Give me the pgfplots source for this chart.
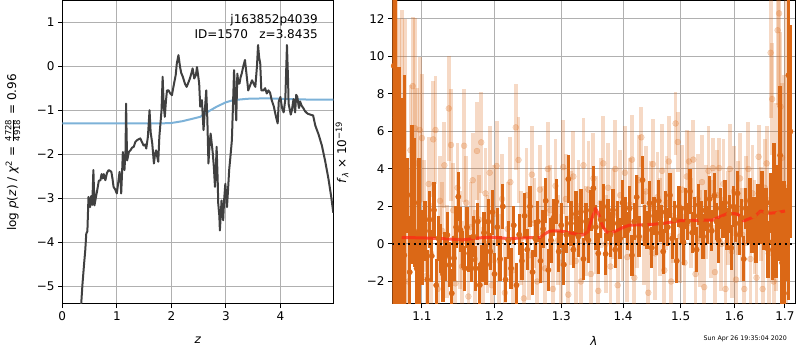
\documentclass[border=0pt]{standalone}
\usepackage{pgfplots}
\usepackage{pgfplotstable}
\pgfplotsset{compat=1.18}
\usepackage{fontspec}
\setmainfont{DejaVu Sans}
\definecolor{dorange}{RGB}{219,104,22}
\definecolor{lblue}{RGB}{125,178,216}
\definecolor{dgray}{RGB}{64,64,64}
\definecolor{gridgray}{RGB}{176,176,176}
\definecolor{redl}{RGB}{255,40,20}

\pgfplotstableread{
z y
0.344 -5.45
0.37 -4.95
0.40 -4.48
0.42 -4.2
0.44 -3.80
0.46 -3.75
0.48 -2.97
0.50 -3.05
0.51 -3.20
0.53 -2.95
0.55 -3.15
0.57 -2.36
0.59 -3.16
0.62 -2.95
0.64 -2.82
0.67 -2.6
0.70 -2.59
0.72 -2.45
0.74 -2.55
0.76 -2.45
0.79 -2.59
0.82 -2.42
0.85 -2.36
0.88 -2.38
0.90 -2.40
0.92 -2.55
0.94 -2.74
0.97 -2.8
1.00 -2.89
1.02 -2.7
1.05 -2.40
1.07 -2.6
1.08 -2.89
1.10 -2.3
1.11 -1.95
1.13 -2.2
1.14 -2.36
1.16 -1.9
1.17 -0.85
1.18 -1.6
1.19 -2.14
1.22 -1.95
1.25 -1.91
1.28 -1.85
1.31 -1.83
1.34 -1.72
1.37 -1.68
1.40 -1.66
1.43 -1.64
1.46 -1.72
1.49 -1.80
1.52 -1.78
1.54 -1.87
1.57 -1.6
1.60 -1.0
1.62 -1.5
1.65 -1.76
1.68 -2.21
1.70 -2.0
1.72 -1.91
1.74 -2.05
1.76 -2.17
1.78 -1.6
1.80 -1.30
1.82 -1.0
1.84 -0.24
1.86 -0.9
1.88 -1.15
1.90 -0.8
1.92 -0.55
1.95 -0.55
1.98 -0.62
2.01 -0.66
2.05 -0.39
2.08 -0.2
2.10 0.06
2.13 0.25
2.16 -0.02
2.18 -0.15
2.21 -0.24
2.25 -0.4
2.28 -0.47
2.31 -0.38
2.34 -0.28
2.37 -0.15
2.39 -0.05
2.42 -0.28
2.45 -0.2
2.47 -0.02
2.49 -0.2
2.51 -0.39
2.53 -0.92
2.56 -0.77
2.59 -1.45
2.62 -0.9
2.64 -0.55
2.66 -1.2
2.68 -2.21
2.70 -1.8
2.72 -1.53
2.74 -1.75
2.76 -1.98
2.78 -2.3
2.80 -2.74
2.82 -2.2
2.83 -1.83
2.85 -2.6
2.86 -3.12
2.88 -3.4
2.89 -3.73
2.91 -3.3
2.92 -3.05
2.94 -3.3
2.95 -3.5
2.97 -3.0
2.99 -2.67
3.01 -3.0
3.02 -3.2
3.04 -2.8
3.06 -2.36
3.08 -2.1
3.11 -1.68
3.13 -0.9
3.15 -0.09
3.17 -0.7
3.19 -1.23
3.21 -0.17
3.23 -0.4
3.25 -0.39
3.27 -0.25
3.29 -0.17
3.32 0.0
3.35 0.14
3.38 -0.2
3.41 -0.55
3.44 -0.45
3.48 -0.32
3.51 -0.4
3.54 -0.47
3.57 0.0
3.59 0.48
3.61 0.2
3.63 0.06
3.65 -0.55
3.69 -0.55
3.72 -0.5
3.75 -0.62
3.78 -0.55
3.81 -0.6
3.84 -0.77
3.88 -0.92
3.91 -1.1
3.95 -1.30
3.97 -0.8
4.00 -0.7
4.03 -0.95
4.06 -1.05
4.09 -0.75
4.12 0.48
4.14 -0.3
4.15 -0.85
4.19 -1.1
4.21 -1.0
4.24 -0.75
4.27 -1.05
4.29 -0.65
4.31 -0.70
4.34 -0.95
4.36 -0.8
4.39 -0.9
4.42 -0.95
4.45 -1.02
4.50 -1.08
4.55 -1.1
4.60 -1.12
4.64 -1.35
4.67 -1.45
4.70 -1.55
4.76 -1.8
4.82 -2.15
4.88 -2.55
4.93 -2.95
4.97 -3.33
}\pz

\pgfplotstableread{
z y
0.00 -1.30
1.00 -1.30
1.80 -1.30
2.00 -1.29
2.20 -1.25
2.40 -1.19
2.53 -1.15
2.65 -1.05
2.83 -0.92
3.00 -0.82
3.14 -0.77
3.40 -0.74
3.75 -0.73
4.20 -0.75
4.60 -0.76
4.97 -0.76
}\prior

\pgfplotstableread{
x y e
1.0635 9.5 14
1.0660 6.75 12
1.0700 0.45 9
1.0740 2.0 5.8
1.0770 -0.6 9.6
1.0810 2.6 2.0
1.0840 -1.5 3
1.0870 2.65 3.7
1.0900 2.2 3.45
1.0930 -1.3 2.0
1.0960 0.7 3.9
1.1000 -0.2 2.0
1.1040 0.69 1.6
1.1070 -1.9 1.6
1.1100 1.3 1.5
1.1130 -0.64 1.4
1.1160 1.81 1.5
1.1190 -2.2 1.4
1.1220 0.3 1.2
1.1250 -0.23 1.3
1.1280 -1.6 1.5
1.1310 -0.68 1.3
1.1340 0.48 1.2
1.1370 -1.12 1.2
1.1400 -2.63 1.3
1.1430 -0.76 1.2
1.1460 0.9 1.1
1.1490 2.52 1.3
1.1520 0.75 1.2
1.1550 -0.3 1.0
1.1580 -1.3 1.2
1.1610 0.89 1.1
1.1640 -0.5 1.0
1.1670 -0.85 1.2
1.1700 0.4 1.1
1.1730 -1.3 1.2
1.1760 1.2 1.0
1.1790 -2.19 1.2
1.1820 -1.03 1.0
1.1850 0.6 1.1
1.1880 -1.1 1.1
1.1910 1.19 1.2
1.1940 -0.4 1.0
1.1970 1.7 1.2
1.2000 -1.6 1.1
1.2040 0.9 1.0
1.2080 -0.8 1.2
1.2120 2.0 1.2
1.2160 -1.9 1.2
1.2200 0.2 1.0
1.2240 -1.3 1.1
1.2280 1.0 1.0
1.2320 -2.2 1.2
1.2360 0.5 1.1
1.2400 -0.9 1.0
1.2440 1.5 1.2
1.2480 -0.3 1.1
1.2520 2.0 1.1
1.2560 -1.5 1.2
1.2600 0.3 1.0
1.2640 1.2 1.1
1.2680 -0.9 1.2
1.2720 0.8 1.0
1.2760 2.3 1.2
1.2800 -1.39 1.1
1.2840 0.2 1.2
1.2880 1.4 1.0
1.2920 2.26 1.2
1.2960 -0.4 1.1
1.3000 1.0 1.2
1.3040 -1.1 1.1
1.3080 0.5 1.0
1.3110 3.46 1.3
1.3150 1.1 1.2
1.3190 -0.3 1.0
1.3230 1.6 1.2
1.3270 0.4 1.1
1.3310 1.72 1.2
1.3350 -0.8 1.1
1.3390 1.2 1.0
1.3430 0.2 1.2
1.3470 1.8 1.1
1.3510 2.97 1.2
1.3550 0.9 1.2
1.3590 -0.5 1.1
1.3630 1.3 1.0
1.3670 2.0 1.2
1.3710 -0.53 1.1
1.3750 1.28 1.1
1.3790 0.5 1.2
1.3830 1.81 1.1
1.3870 -0.3 1.0
1.3910 1.1 1.2
1.3950 0.3 1.1
1.3990 2.2 1.2
1.4030 1.4 1.1
1.4070 0.7 1.0
1.4110 1.9 1.2
1.4150 -0.6 1.1
1.4190 1.2 1.0
1.4230 2.5 1.2
1.4270 0.4 1.1
1.4330 3.41 1.3
1.4370 1.0 1.1
1.4410 0.75 1.0
1.4450 2.17 1.2
1.4490 -0.2 1.1
1.4530 1.5 1.0
1.4570 0.6 1.2
1.4610 2.3 1.1
1.4650 1.1 1.0
1.4690 -0.4 1.2
1.4730 1.7 1.1
1.4770 0.9 1.0
1.4810 2.6 1.2
1.4850 0.3 1.1
1.4890 1.3 1.0
1.4930 -0.9 1.2
1.4970 2.0 1.1
1.5010 1.0 1.0
1.5050 0.1 1.2
1.5090 1.9 1.1
1.5130 1.2 1.0
1.5170 2.8 1.2
1.5210 0.6 1.1
1.5250 1.5 1.0
1.5290 -0.3 1.2
1.5330 2.1 1.1
1.5370 1.3 1.0
1.5410 0.4 1.2
1.5450 1.8 1.1
1.5490 1.0 1.0
1.5530 2.4 1.2
1.5570 0.7 1.1
1.5620 2.58 1.2
1.5660 1.2 1.0
1.5700 0.2 1.2
1.5740 1.9 1.1
1.5780 1.3 1.0
1.5820 2.2 1.2
1.5860 0.8 1.1
1.5900 1.6 1.0
1.5940 -0.2 1.2
1.5980 2.0 1.1
1.6020 1.1 1.0
1.6060 2.7 1.2
1.6100 0.5 1.1
1.6140 1.4 1.0
1.6180 -0.8 1.2
1.6220 1.9 1.1
1.6260 1.0 1.0
1.6300 2.3 1.2
1.6340 0.6 1.1
1.6380 1.5 1.0
1.6420 0.2 1.2
1.6460 2.1 1.1
1.6500 1.2 1.2
1.6540 2.6 1.3
1.6580 0.9 1.2
1.6620 1.7 1.3
1.6660 -0.3 1.5
1.6700 2.2 1.6
1.6740 0.1 2.0
1.6780 3.41 2.0
1.6820 1.2 3.0
1.6860 1.6 2.5
1.6900 4.73 3.7
1.6940 -1.0 4
1.6980 -2.63 6
1.7020 0.5 2.5
1.7070 9.0 12
1.7110 6.0 5.7
}\dark

\pgfplotstableread{
x y e
1.0660 2.0 12
1.0700 -1.0 13
1.0740 4.5 8
1.0780 1.0 11
1.0820 -2.0 6
1.0850 5.0 3.5
1.0880 8.42 3.7
1.0910 6.17 5.9
1.0940 4.3 4
1.0970 6.08 3.9
1.1000 5.65 3.4
1.1030 1.5 3
1.1060 -1.7 2.8
1.1090 3.2 2.5
1.1120 -0.5 2.7
1.1150 5.58 3.1
1.1180 6.08 2.9
1.1210 -2.4 2.5
1.1240 2.3 2.4
1.1270 0.7 2.6
1.1300 4.2 2.3
1.1330 -0.4 2.5
1.1360 7.23 2.8
1.1390 5.28 3
1.1420 1.8 2.5
1.1450 -2.1 2.6
1.1480 3.0 2.4
1.1510 0.2 2.6
1.1540 -1.2 2.4
1.1570 5.24 3.0
1.1600 2.2 2.5
1.1630 -2.8 2.6
1.1660 0.9 2.4
1.1690 3.4 2.5
1.1720 -0.8 2.6
1.1750 4.96 2.6
1.1780 1.3 2.4
1.1810 5.42 2.7
1.1840 -1.6 2.5
1.1870 2.7 2.4
1.1900 0.0 2.6
1.1930 3.8 2.5
1.1960 -2.2 2.4
1.1990 1.6 2.6
1.2030 4.16 2.4
1.2070 -0.9 2.5
1.2110 2.4 2.4
1.2150 -2.6 2.6
1.2190 0.8 2.5
1.2230 3.3 2.4
1.2270 -1.4 2.5
1.2310 6.22 2.3
1.2350 4.48 2.3
1.2390 0.3 2.5
1.2430 -2.9 2.4
1.2470 2.6 2.5
1.2510 -0.6 2.4
1.2550 3.7 2.6
1.2590 1.1 2.4
1.2630 -2.0 2.5
1.2670 2.9 2.4
1.2710 0.5 2.6
1.2750 -1.3 2.4
1.2790 4.0 2.5
1.2830 1.8 2.4
1.2870 -2.4 2.6
1.2910 3.1 2.5
1.2950 0.2 2.4
1.2990 -1.0 2.6
1.3030 4.1 2.5
1.3070 2.4 2.4
1.3110 -2.7 2.6
1.3150 1.4 2.5
1.3190 3.6 2.4
1.3230 -0.9 2.6
1.3270 2.0 2.5
1.3310 -2.0 2.4
1.3350 4.2 2.5
1.3390 0.7 2.4
1.3430 2.9 2.6
1.3470 -1.6 2.5
1.3510 3.5 2.4
1.3550 1.0 2.6
1.3590 -2.5 2.5
1.3630 2.2 2.4
1.3670 4.3 2.5
1.3710 0.0 2.6
1.3750 3.0 2.4
1.3790 -1.2 2.5
1.3830 1.6 2.4
1.3870 4.0 2.6
1.3910 -2.2 2.5
1.3950 2.6 2.4
1.3990 0.6 2.6
1.4030 3.8 2.5
1.4070 -0.7 2.4
1.4110 2.1 2.5
1.4150 4.5 2.4
1.4190 -1.8 2.6
1.4230 1.2 2.5
1.4270 3.4 2.4
1.4310 5.69 1.6
1.4350 0.3 2.5
1.4390 2.8 2.4
1.4430 -2.6 2.6
1.4470 1.9 2.5
1.4510 4.26 2.4
1.4550 -0.5 2.5
1.4590 2.5 2.4
1.4630 0.9 2.6
1.4670 3.9 2.5
1.4710 -1.4 2.4
1.4750 2.2 2.5
1.4790 4.4 2.4
1.4830 -2.0 2.6
1.4870 1.5 2.5
1.4910 6.43 1.7
1.4950 5.44 1.6
1.4990 0.4 2.5
1.5030 2.9 2.4
1.5070 -1.0 2.6
1.5110 3.6 2.5
1.5150 4.4 1.6
1.5190 1.1 2.4
1.5230 4.5 2.1
1.5270 -1.6 2.5
1.5310 2.4 2.4
1.5350 0.3 2.6
1.5390 3.3 2.5
1.5430 -2.3 2.4
1.5470 1.7 2.5
1.5510 3.9 2.4
1.5550 0.8 2.6
1.5590 4.05 1.6
1.5630 -1.5 2.5
1.5670 2.6 2.4
1.5710 4.05 1.6
1.5750 0.0 2.5
1.5790 3.2 2.4
1.5830 -2.4 2.6
1.5870 1.4 2.5
1.5910 4.0 2.4
1.5950 -0.4 2.5
1.5990 2.8 2.4
1.6030 -1.9 2.6
1.6070 1.9 2.5
1.6110 3.5 2.4
1.6150 0.5 2.5
1.6190 -2.4 2.6
1.6230 2.3 2.4
1.6270 4.0 2.5
1.6310 -0.8 2.4
1.6350 2.7 2.6
1.6390 0.9 2.5
1.6430 -1.8 2.4
1.6470 4.65 1.7
1.6510 1.6 2.5
1.6550 -2.4 2.6
1.6590 3.0 2.6
1.6630 4.3 2.0
1.6670 -0.5 3
1.6710 10.2 3.5
1.6740 7.73 3
1.6770 -2.0 4
1.6810 2.5 5
1.6850 11.4 4
1.6880 12.3 5
1.6910 7.32 4
1.6940 4.6 4
1.6980 -1.0 10
1.7020 3.0 12
}\light

\pgfplotstableread{
x y
1.0736 0.34
1.100 0.33
1.130 0.28
1.156 0.22
1.175 0.32
1.193 0.36
1.205 0.34
1.222 0.28
1.240 0.33
1.267 0.34
1.275 0.55
1.2823 0.69
1.295 0.70
1.305 0.66
1.320 0.55
1.334 0.48
1.342 0.65
1.348 1.30
1.3544 1.90
1.360 1.55
1.366 0.95
1.372 0.66
1.378 0.57
1.390 0.72
1.400 0.88
1.411 1.01
1.440 1.02
1.469 1.10
1.4984 1.24
1.530 1.26
1.559 1.28
1.572 1.45
1.587 1.63
1.600 1.62
1.607 1.58
1.618 1.23
1.630 1.36
1.639 1.46
1.651 1.76
1.664 1.64
1.680 1.66
1.700 1.76
}\model

\pgfplotsset{
  myax/.style={
    scale only axis, anchor=south west,
    height=303bp,
    axis line style={line width=1bp},
    tick style={line width=1bp, black},
    major tick length=4.2bp,
    tick align=outside,
    tick pos=left,
    grid=major,
    major grid style={line width=1bp, color=gridgray},
    tick label style={font=\fontsize{12bp}{14bp}\selectfont},
    clip=true,
  }
}

\begin{document}
\begin{tikzpicture}
\path[use as bounding box] (0,0) rectangle (800bp,350bp);

\begin{axis}[myax,
  at={(62.3bp,46bp)}, width=271bp,
  xmin=0, xmax=4.97, ymin=-5.40, ymax=1.48,
  xtick={0,1,2,3,4}, xticklabels={0,1,2,3,4},
  ytick={-5,-4,-3,-2,-1,0,1},
  yticklabels={−5,−4,−3,−2,−1,0,1},
  xlabel={\textit{z}},
  ylabel={log \textit{p}(\textit{z}) / \textit{χ}\textsuperscript{2} = $\frac{\mbox{\fontsize{8.5bp}{9bp}\selectfont 4728}}{\mbox{\fontsize{8.5bp}{9bp}\selectfont 4918}}$ = 0.96},
  xlabel style={at={(axis description cs:0.5,-0.119)},anchor=center,font=\fontsize{12bp}{14bp}\selectfont},
  ylabel style={at={(axis description cs:-0.183,0.5)},anchor=center,font=\fontsize{12bp}{14bp}\selectfont},
]
\addplot[lblue, line width=2bp] table[x=z,y=y] {\prior};
\addplot[dgray, line width=2bp, line join=round] table[x=z,y=y] {\pz};
\node[anchor=east, font=\fontsize{12bp}{14bp}\selectfont, inner sep=0pt] at (axis description cs:0.9435,0.937) {j163852p4039};
\node[anchor=east, font=\fontsize{12bp}{14bp}\selectfont, inner sep=0pt] at (axis description cs:0.9435,0.889) {ID=1570\ \ \ z=3.8435};
\end{axis}

\begin{axis}[myax,
  at={(392.3bp,46bp)}, width=403.4bp,
  xmode=log,
  xmin=1.0616, xmax=1.722, ymin=-3.2, ymax=12.96,
  xtick={1.1,1.2,1.3,1.4,1.5,1.6,1.7},
  xticklabels={1.1,1.2,1.3,1.4,1.5,1.6,1.7},
  ytick={-2,0,2,4,6,8,10,12},
  yticklabels={−2,0,2,4,6,8,10,12},
  minor xtick={},
  xlabel={\textit{λ}},
  ylabel={\textit{f}\textsubscript{\textit{λ}} × 10\textsuperscript{−19}},
  xlabel style={at={(axis description cs:0.5,-0.122)},anchor=center,font=\fontsize{12bp}{14bp}\selectfont},
  ylabel style={at={(axis description cs:-0.1247,0.5)},anchor=center,font=\fontsize{12bp}{14bp}\selectfont},
]
\addplot[only marks, mark=*, mark size=3bp, color=dorange, opacity=0.25,
  mark options={draw=none, fill=dorange, fill opacity=0.25},
  error bars/.cd, y dir=both, y explicit, error mark=none,
  error bar style={line width=3.8bp, color=dorange, opacity=0.25}]
  table[x=x, y=y, y error=e] {\light};
\addplot[only marks, mark=*, mark size=2.7bp, color=dorange,
  mark options={draw=none, fill=dorange},
  error bars/.cd, y dir=both, y explicit, error mark=none,
  error bar style={line width=3.3bp, color=dorange}]
  table[x=x, y=y, y error=e] {\dark};
\addplot[redl, opacity=0.75, line width=3bp, line join=round] table[x=x,y=y] {\model};
\addplot[black, line width=2bp, dash pattern=on 2bp off 3.3bp] coordinates {(1.0616,0) (1.722,0)};
\end{axis}

\node[anchor=east, font=\fontsize{6.3bp}{7bp}\selectfont, inner sep=0pt] at (787bp,11bp) {Sun Apr 26 19:35:04 2020};
\end{tikzpicture}
\end{document}
